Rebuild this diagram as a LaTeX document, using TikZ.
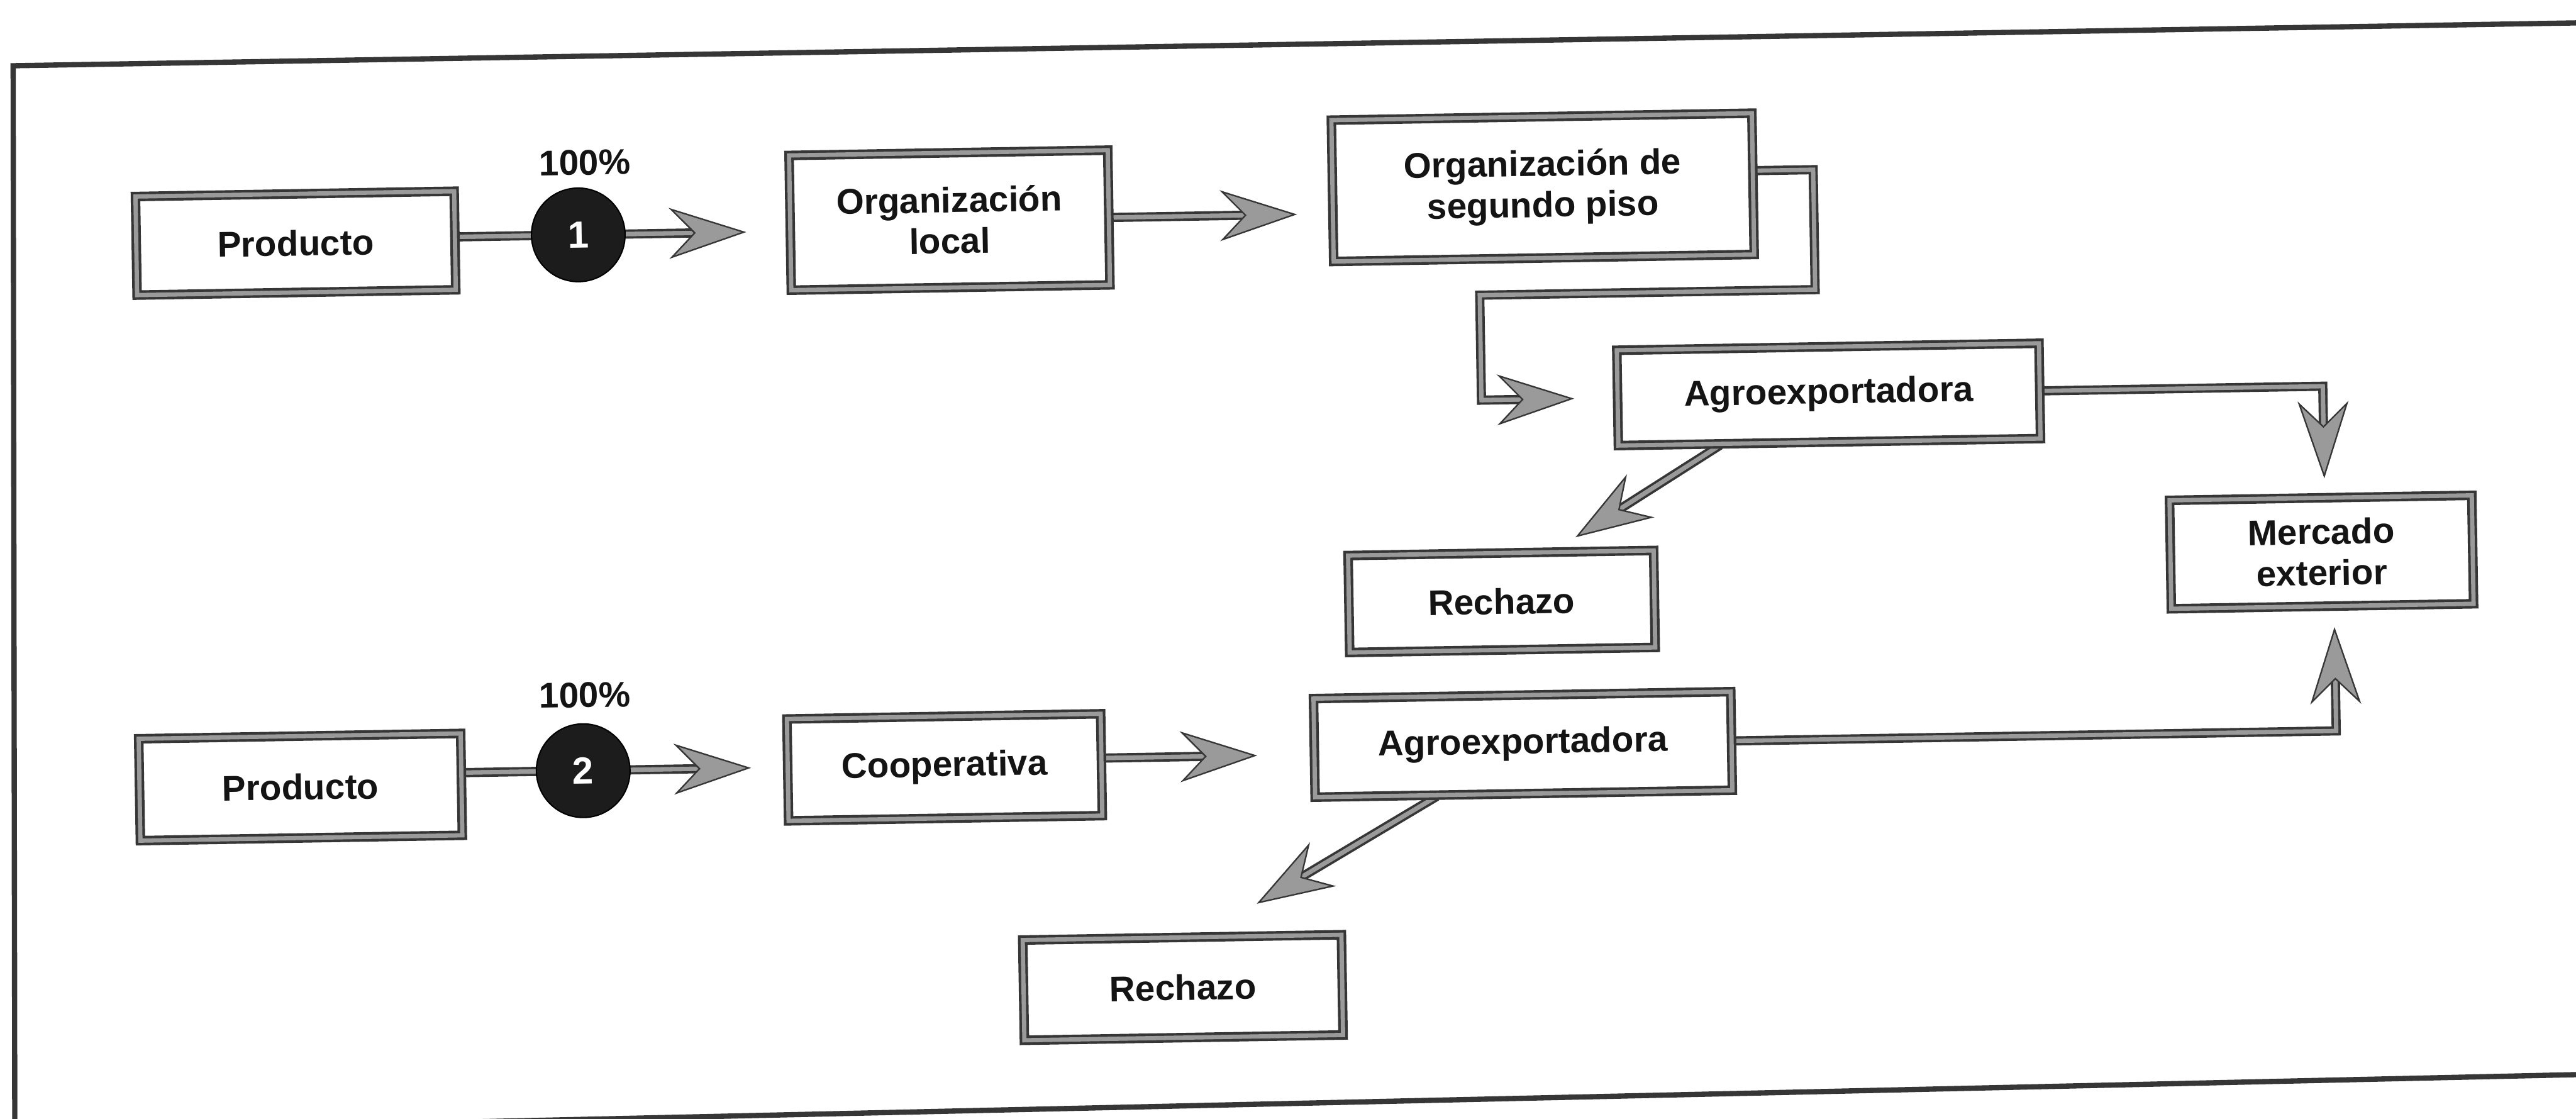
\documentclass[tikz,border=0pt]{standalone}
\usepackage{fontspec}
\setmainfont{Liberation Sans}
\usetikzlibrary{arrows.meta,calc}
\pgfdeclarelayer{bg}
\pgfsetlayers{bg,main}
\definecolor{ink}{HTML}{363636}
\definecolor{band}{HTML}{9A9A9A}
\definecolor{disc}{HTML}{1C1C1C}

\begin{document}
\begin{tikzpicture}[x=1pt,y=-1pt,
  lbl/.style={font=\fontsize{21.7}{25}\selectfont\bfseries, text=black!92},
  stage/.style={lbl, draw=ink, line width=1.6pt, double=band, double distance=2.6pt,
    fill=white, align=center, inner sep=0pt},
  wire/.style={draw=ink, line width=1.5pt, double=band, double distance=2.6pt},
  tipln/.style={draw=band, line width=2.6pt,
    -{Stealth[length=47pt, width=31pt, inset=15pt, color=ink, fill=band, line width=0.9pt]}},
  flag/.style={circle, fill=disc, draw=black, line width=0.8pt, minimum size=57pt,
    inner sep=0pt, text=white, font=\fontsize{23}{25}\selectfont\bfseries},
  pct/.style={lbl},
  frame/.style={draw=ink, line width=3.2pt, line join=miter},
]
\useasboundingbox (0,0) rectangle (1568,681);
\begin{pgfonlayer}{bg}
  \fill[white] (0,0) rectangle (1568,681);
  % outer frame, slightly skewed like a scanned page
  \draw[frame] (1600,13.4) -- (8,40) -- (9,689) -- (1600,653.3);
\end{pgfonlayer}

\begin{scope}[rotate around={0.95:(784,340)}, transform shape]
  % upper chain
  \node[stage, minimum width=194pt, minimum height=60pt] (prod1) at (183.2,138.0) {Producto};
  \node[flag] (n1) at (355.3,135.8) {1};
  \node[pct] (pct1) at (360,91.9) {100\%};
  \node[stage, minimum width=194pt, minimum height=82pt] (orgl) at (581.4,130.6) {Organización\\local};
  \node[stage, minimum width=256pt, minimum height=86pt] (org2) at (942.8,116.6) {Organización de\\segundo piso};
  \node[stage, minimum width=257pt, minimum height=58pt] (ag1) at (1114.7,245.5) {Agroexportadora};
  \node[stage, minimum width=184pt, minimum height=66pt] (mer) at (1413.1,346.4) {Mercado\\exterior};
  \node[stage, minimum width=186pt, minimum height=59pt] (rech1) at (913.6,368.2) {Rechazo};

  % lower chain
  \node[pct] (pct2) at (354.6,415.9) {100\%};
  \node[stage, minimum width=196pt, minimum height=62pt] (prod2) at (180.7,469.0) {Producto};
  \node[flag] (n2) at (352.9,461.9) {2};
  \node[stage, minimum width=191pt, minimum height=62pt] (coop) at (572.9,463.5) {Cooperativa};
  \node[stage, minimum width=254pt, minimum height=60pt] (ag2) at (925.1,455.4) {Agroexportadora};
  \node[stage, minimum width=194pt, minimum height=61pt] (rech2) at (715.7,599.9) {Rechazo};

  \coordinate (e0) at ($(ag1.south west)!0.243!(ag1.south east)$);
  \coordinate (r1tip) at (959.2,329.9);
  \coordinate (g0) at ($(ag2.south west)!0.293!(ag2.south east)$);
  \coordinate (r2tip) at (761.5,549.7);
  \coordinate (ci) at ([yshift=4pt]coop.east);
  \coordinate (c0) at ([yshift=8pt]org2.east);
  \coordinate (cin) at ([xshift=-82pt]ag1.west);
  \coordinate (mtop) at ([xshift=2.5pt]mer.north);
  \coordinate (mbot) at ([xshift=7.2pt]mer.south);

  \begin{pgfonlayer}{bg}
    % Producto -> Organizacion local
    \draw[wire, shorten >=48pt] (n1 -| prod1.east) -- (n1 -| orgl.west);
    \draw[tipln, shorten >=26pt] (n1 -| prod1.east) -- (n1 -| orgl.west);
    % Organizacion local -> segundo piso
    \draw[wire, shorten >=43pt] (orgl.east) -- (orgl.east -| org2.west);
    \draw[tipln, shorten >=21pt] (orgl.east) -- (orgl.east -| org2.west);
    % segundo piso -> Agroexportadora
    \draw[wire, shorten >=48pt] (c0) -| ++(36,73) -| (cin) -- (ag1.west);
    \draw[tipln, shorten >=25.6pt] (cin) -- (ag1.west);
    % Agroexportadora -> Mercado exterior
    \draw[wire, shorten >=33pt] (ag1.east) -| (mtop);
    \draw[tipln, shorten >=11pt] (mtop |- ag1.east) -- (mtop);
    % Agroexportadora -> Rechazo
    \draw[wire, shorten >=22pt] (e0) -- (r1tip);
    \draw[tipln] (e0) -- (r1tip);

    % Producto -> Cooperativa
    \draw[wire, shorten >=43pt] (n2 -| prod2.east) -- (n2 -| coop.west);
    \draw[tipln, shorten >=21.5pt] (n2 -| prod2.east) -- (n2 -| coop.west);
    % Cooperativa -> Agroexportadora
    \draw[wire, shorten >=56pt] (ci) -- (ci -| ag2.west);
    \draw[tipln, shorten >=34pt] (ci) -- (ci -| ag2.west);
    % Agroexportadora -> Mercado exterior
    \draw[wire, shorten >=34pt] (ag2.east) -| (mbot);
    \draw[tipln, shorten >=12pt] (mbot |- ag2.east) -- (mbot);
    % Agroexportadora -> Rechazo
    \draw[wire, shorten >=22pt] (g0) -- (r2tip);
    \draw[tipln] (g0) -- (r2tip);
  \end{pgfonlayer}
\end{scope}
\end{tikzpicture}
\end{document}
